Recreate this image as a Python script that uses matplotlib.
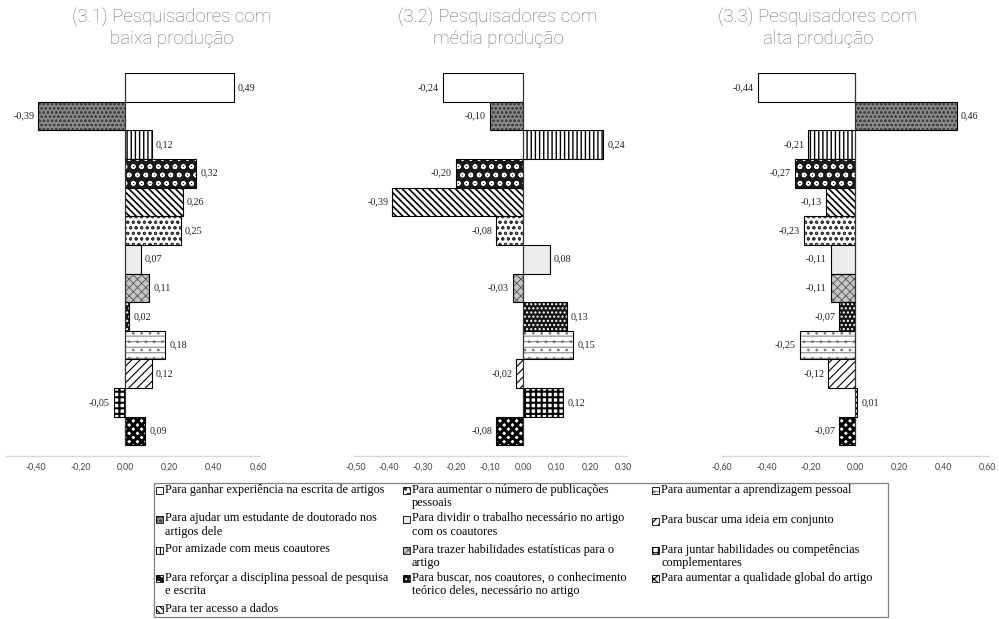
import matplotlib
matplotlib.use("Agg")
import matplotlib.pyplot as plt
from matplotlib.patches import Rectangle

# categorias (ordem das barras, de cima para baixo)
motivos = [
    "Para ganhar experiência na escrita de artigos",
    "Para ajudar um estudante de doutorado nos\nartigos dele",
    "Por amizade com meus coautores",
    "Para reforçar a disciplina pessoal de pesquisa\ne escrita",
    "Para ter acesso a dados",
    "Para aumentar o número de publicações\npessoais",
    "Para dividir o trabalho necessário no artigo\ncom os coautores",
    "Para trazer habilidades estatísticas para o\nartigo",
    "Para buscar, nos coautores, o conhecimento\nteórico deles, necessário no artigo",
    "Para aumentar a aprendizagem pessoal",
    "Para buscar uma ideia em conjunto",
    "Para juntar habilidades ou competências\ncomplementares",
    "Para aumentar a qualidade global do artigo",
]

titulos = [
    "(3.1) Pesquisadores com\nbaixa produção",
    "(3.2) Pesquisadores com\nmédia produção",
    "(3.3) Pesquisadores com\nalta produção",
]

baixa = [0.49, -0.39, 0.12, 0.32, 0.26, 0.25, 0.07, 0.11, 0.02, 0.18, 0.12, -0.05, 0.09]
media = [-0.24, -0.10, 0.24, -0.20, -0.39, -0.08, 0.08, -0.03, 0.13, 0.15, -0.02, 0.12, -0.08]
alta = [-0.44, 0.46, -0.21, -0.27, -0.13, -0.23, -0.11, -0.11, -0.07, -0.25, -0.12, 0.01, -0.07]

ticks_baixa = [-0.40, -0.20, 0.00, 0.20, 0.40, 0.60]
ticks_media = [-0.50, -0.40, -0.30, -0.20, -0.10, 0.00, 0.10, 0.20, 0.30]
ticks_alta = [-0.60, -0.40, -0.20, 0.00, 0.20, 0.40, 0.60]

# estilo de cada barra: (fundo, hachura, cor da hachura, espessura da hachura)
estilos = [
    ("white", "", "black", 1.0),
    ("#8a8a8a", "oooo", "#444444", 0.6),
    ("white", "||||", "black", 1.0),
    ("#1a1a1a", "oo", "white", 1.0),
    ("white", "\\\\\\\\\\", "black", 1.2),
    ("white", "ooo", "#333333", 0.7),
    ("#ececec", "", "black", 1.0),
    ("#c4c4c4", "xxxx", "#555555", 0.6),
    ("#151515", "....", "white", 1.0),
    ("white", "---..", "#777777", 0.7),
    ("white", "////", "black", 0.8),
    ("white", "+++", "black", 1.5),
    ("white", "xxxx", "black", 2.2),
]

serif = "Liberation Serif"

W, H = 999, 619
fig = plt.figure(figsize=(W / 100, H / 100), dpi=100)


def barra(ax, y, v, est):
    fc, hatch, hc, hlw = est
    plt.rcParams["hatch.linewidth"] = hlw
    b = ax.barh(y, v, height=1.0, color=fc, hatch=hatch, edgecolor=hc, linewidth=0)
    for p in b:
        if hasattr(p, "set_hatch_linewidth"):
            p.set_hatch_linewidth(hlw)
    ax.barh(y, v, height=1.0, fill=False, edgecolor="black", linewidth=0.8)


# (valores, ticks, zero em px, px por unidade, xmin, xmax, centro do titulo)
paineis = [
    (baixa, ticks_baixa, 125, 222, -0.54, 0.61, 172),
    (media, ticks_media, 523, 335, -0.505, 0.31, 498),
    (alta, ticks_alta, 855, 221.5, -0.60, 0.60, 818),
]

topo_px, base_px = 73, 456
n = len(motivos)

for j, (valores, ticks, zero, escala, xmin, xmax, cx) in enumerate(paineis):
    esq = zero + xmin * escala
    dir_ = zero + xmax * escala
    ax = fig.add_axes([esq / W, 1 - base_px / H, (dir_ - esq) / W, (base_px - topo_px) / H])
    for i, v in enumerate(valores):
        barra(ax, i, v, estilos[i])
        rot = f"{v:.2f}".replace(".", ",")
        if v >= 0:
            ax.annotate(rot, (v, i), xytext=(3, 0), textcoords="offset points",
                        ha="left", va="center", fontsize=7.3, family=serif, color="#222222")
        else:
            ax.annotate(rot, (v, i), xytext=(-3, 0), textcoords="offset points",
                        ha="right", va="center", fontsize=7.3, family=serif, color="#222222")
    ax.plot([0, 0], [-0.5, n - 0.5], color="#333333", lw=0.8)
    ax.set_xlim(xmin, xmax)
    ax.set_ylim(n - 0.5 + 0.37, -0.5)
    ax.set_yticks([])
    ax.set_xticks(ticks)
    ax.set_xticklabels([f"{t:.2f}".replace(".", ",") for t in ticks], fontsize=6.3,
                       family="Lato", color="#404040")
    ax.tick_params(axis="x", length=0, pad=5)
    for s in ["top", "right", "left"]:
        ax.spines[s].set_visible(False)
    ax.spines["bottom"].set_color("#d9d9d9")
    ax.spines["bottom"].set_linewidth(1.0)
    fig.text(cx / W, 1 - 8 / H, titulos[j], ha="center", va="top", fontsize=13.4,
             color="#6e6e6e", family="Roboto", fontweight="light", linespacing=1.2)

# legenda montada a mao (tabela de 3 colunas)
col_x = [156, 403, 652]
linhas_y = [
    [490, 519, 550, 578, 609],
    [490, 519, 550, 578],
    [490, 521, 550, 578],
]
fig.patches.append(Rectangle((154 / W, 1 - 617 / H), (888 - 154) / W, (617 - 483) / H,
                             transform=fig.transFigure, fill=False,
                             edgecolor="#808080", linewidth=0.9))
k = 0
for c, ys in enumerate(linhas_y):
    for y in ys:
        fc, hatch, hc, hlw = estilos[k]
        plt.rcParams["hatch.linewidth"] = min(hlw, 0.8)
        fig.patches.append(Rectangle((col_x[c] / W, 1 - (y + 3.5) / H), 7 / W, 7 / H,
                                     transform=fig.transFigure, facecolor=fc,
                                     hatch=hatch, edgecolor=hc, linewidth=0))
        fig.patches.append(Rectangle((col_x[c] / W, 1 - (y + 3.5) / H), 7 / W, 7 / H,
                                     transform=fig.transFigure, fill=False,
                                     edgecolor="black", linewidth=0.6))
        fig.text((col_x[c] + 9) / W, 1 - (y - 6.5) / H, motivos[k], ha="left", va="top",
                 fontsize=8.8, family=serif, linespacing=1.12)
        k += 1

fig.savefig("out.png", dpi=100)
